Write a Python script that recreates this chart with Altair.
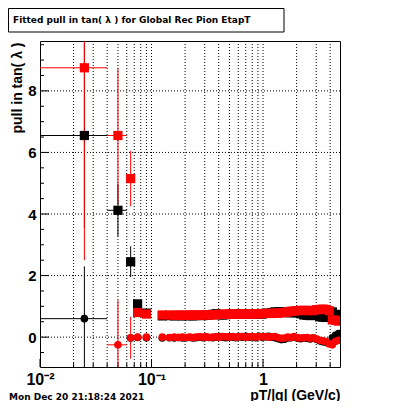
import altair as alt
import pandas as pd

# ---- axis tick values ----
X_MAJOR = [0.01, 0.1, 1]
X_MINOR = [0.02, 0.03, 0.04, 0.05, 0.06, 0.07, 0.08, 0.09,
           0.2, 0.3, 0.4, 0.5, 0.6, 0.7, 0.8, 0.9, 2, 3, 4]
Y_MAJOR = [0, 2, 4, 6, 8]
Y_MINOR = [-0.5, 0.5, 1, 1.5, 2.5, 3, 3.5, 4.5, 5, 5.5, 6.5, 7, 7.5, 8.5, 9, 9.5]
X_DOMAIN = [0.01, 4.9]
Y_DOMAIN = [-0.97, 9.62]

# ---- bin centres of the dense region ----
dense_x = [0.125, 0.145, 0.16, 0.175, 0.19, 0.205, 0.22, 0.235, 0.25, 0.27,
           0.29, 0.31, 0.33, 0.355, 0.38, 0.405, 0.435, 0.465, 0.5, 0.535,
           0.57, 0.61, 0.65, 0.7, 0.75, 0.8, 0.86, 0.92, 0.98, 1.05,
           1.12, 1.2, 1.28, 1.37, 1.46, 1.56, 1.67, 1.78, 1.9, 2.03,
           2.17, 2.32, 2.48, 2.65, 2.83, 3.02, 3.22, 3.44, 3.67, 3.92,
           4.18, 4.46, 4.75]

# black squares
bs_x = [0.025, 0.05, 0.065, 0.075, 0.09] + dense_x
bs_y = [6.55, 4.12, 2.45, 1.08, 0.78,
        0.69, 0.70, 0.69, 0.70, 0.69, 0.70, 0.70, 0.69, 0.70, 0.71,
        0.70, 0.72, 0.72, 0.74, 0.76, 0.73, 0.72, 0.73, 0.74, 0.75,
        0.74, 0.75, 0.76, 0.75, 0.74, 0.76, 0.75, 0.76, 0.75, 0.77,
        0.78, 0.80, 0.82, 0.82, 0.82, 0.81, 0.80, 0.79, 0.80, 0.79,
        0.76, 0.72, 0.71, 0.70, 0.71, 0.72, 0.66, 0.65, 0.64, 0.80,
        0.82, 0.72, 0.74]
# red squares
rs_x = [0.025, 0.05, 0.065, 0.075, 0.09] + dense_x
rs_y = [8.75, 6.55, 5.15, 0.80, 0.75,
        0.72, 0.72, 0.71, 0.72, 0.71, 0.72, 0.71, 0.72, 0.72, 0.71,
        0.72, 0.72, 0.73, 0.72, 0.73, 0.74, 0.74, 0.75, 0.75, 0.74,
        0.75, 0.75, 0.75, 0.75, 0.76, 0.75, 0.76, 0.76, 0.76, 0.77,
        0.77, 0.77, 0.78, 0.78, 0.79, 0.80, 0.82, 0.84, 0.85, 0.86,
        0.87, 0.87, 0.86, 0.87, 0.86, 0.89, 0.90, 0.91, 0.90, 0.86,
        0.56, 0.55, 0.52]
# black circles
bc_x = [0.025, 0.065, 0.075, 0.09] + dense_x
bc_y = [0.60, -0.03, -0.01, -0.02,
        -0.03, -0.02, -0.03, -0.01, -0.03, -0.02, -0.01, -0.03, -0.02, 0.00,
        -0.02, 0.00, -0.01, -0.02, 0.00, 0.02, 0.00, -0.02, 0.01, 0.00,
        -0.02, 0.02, 0.00, 0.03, 0.00, 0.01, -0.02, 0.03, 0.00, 0.01,
        0.03, 0.00, -0.02, -0.05, -0.08, -0.07, -0.03, -0.02, 0.00, -0.03,
        -0.05, -0.03, -0.04, -0.06, -0.03, -0.07, -0.12, -0.15, -0.17, -0.20,
        -0.02, 0.06, 0.12]
# red circles
rc_x = [0.05, 0.065, 0.075, 0.09] + dense_x
rc_y = [-0.25, -0.02, 0.00, 0.00,
        0.00, -0.01, 0.00, -0.01, 0.00, -0.01, 0.00, -0.01, 0.00, 0.01,
        0.00, 0.01, -0.01, 0.00, 0.01, 0.00, 0.02, 0.01, 0.00, 0.02,
        0.00, 0.01, 0.02, 0.00, 0.01, 0.02, 0.00, 0.02, 0.01, 0.02,
        0.00, 0.01, 0.02, -0.02, -0.04, -0.03, 0.00, -0.01, 0.02, -0.02,
        -0.03, -0.02, -0.01, -0.04, -0.02, -0.06, -0.10, -0.12, -0.14, -0.22,
        -0.25, -0.14, -0.10]

# error bars of the low-pT bins
err_series = ["bs", "bs", "bs", "bs", "bc", "rs", "rs", "rs", "rc", "rc", "rc"]
err_x   = [0.025, 0.05, 0.065, 0.075, 0.025, 0.025, 0.05, 0.065, 0.05, 0.065, 0.075]
err_xlo = [0.01, 0.04, 0.06, 0.07, 0.01, 0.01, 0.04, 0.06, 0.04, 0.06, 0.07]
err_xhi = [0.04, 0.06, 0.07, 0.08, 0.04, 0.04, 0.06, 0.07, 0.06, 0.07, 0.08]
err_y   = [6.55, 4.12, 2.45, 1.08, 0.60, 8.75, 6.55, 5.15, -0.25, -0.02, 0.00]
err_dy  = [3.0, 0.85, 0.50, 0.12, 1.70, 6.25, 2.20, 0.90, 1.45, 0.68, 0.10]

COLORS = {"bs": "#000000", "bc": "#000000", "rs": "#ff0000", "rc": "#ff0000"}

W, H = 300, 326
FONT = "Liberation Sans"

xs = alt.Scale(type="log", domain=X_DOMAIN, nice=False)
ys = alt.Scale(domain=Y_DOMAIN, nice=False, zero=False)

AX = alt.Axis(values=X_MAJOR,
              labelExpr="datum.value < 0.05 ? '10⁻²' : (datum.value < 0.5 ? '10⁻¹' : '1')",
              ticks=False, domain=False, grid=False, labelFont=FONT,
              labelFontSize=16, labelFontWeight="bold", labelPadding=4,
              labelColor="black", labelFlush=False,
              title="pT/|q| (GeV/c)", titleFont=FONT, titleFontSize=14,
              titleFontWeight="bold", titleColor="black", titleAnchor="end",
              titleAlign="right", titleX=W, titleY=32,
              titleBaseline="alphabetic")
AY = alt.Axis(values=Y_MAJOR, ticks=False, domain=False, grid=False,
              labelFont=FONT, labelFontSize=15, labelFontWeight="bold",
              labelColor="black", labelPadding=4,
              title="pull in tan( λ )", titleFont=FONT, titleFontSize=14,
              titleFontWeight="bold", titleColor="black", titleAngle=270,
              titleAlign="right", titleX=-19, titleY=1,
              titleBaseline="alphabetic")


def X(f):
    return alt.X(f, scale=xs, axis=AX)


def Y(f):
    return alt.Y(f, scale=ys, axis=AY)


def pts(xv, yv):
    return pd.DataFrame({"x": xv, "y": yv})


err = pd.DataFrame({"s": err_series, "x": err_x, "xlo": err_xlo, "xhi": err_xhi,
                    "y": err_y})
err["ylo"] = [a - b for a, b in zip(err_y, err_dy)]
err["yhi"] = [a + b for a, b in zip(err_y, err_dy)]
err["c"] = [COLORS[s] for s in err_series]

# grid lines
xgrid = alt.Chart(pd.DataFrame({"v": X_MAJOR[1:] + X_MINOR})).mark_rule(
    color="black", strokeWidth=1, strokeDash=[1, 2]).encode(x=X("v:Q"))
ygrid = alt.Chart(pd.DataFrame({"v": Y_MAJOR})).mark_rule(
    color="black", strokeWidth=1, strokeDash=[1, 2]).encode(y=Y("v:Q"))

# ticks (inward)
xt_major = alt.Chart(pd.DataFrame({"v": X_MAJOR})).mark_rule(color="black").encode(
    x=X("v:Q"), y=alt.value(H), y2=alt.value(H - 8))
xt_minor = alt.Chart(pd.DataFrame({"v": X_MINOR})).mark_rule(color="black").encode(
    x=X("v:Q"), y=alt.value(H), y2=alt.value(H - 4))
yt_major = alt.Chart(pd.DataFrame({"v": Y_MAJOR})).mark_rule(color="black").encode(
    y=Y("v:Q"), x=alt.value(0), x2=alt.value(9))
yt_minor = alt.Chart(pd.DataFrame({"v": Y_MINOR})).mark_rule(color="black").encode(
    y=Y("v:Q"), x=alt.value(0), x2=alt.value(4))

# error bars
ebx = alt.Chart(err).mark_rule(strokeWidth=1, clip=True).encode(
    x=X("xlo:Q"), x2="xhi:Q", y=Y("y:Q"),
    color=alt.Color("c:N", scale=None))
eby = alt.Chart(err).mark_rule(strokeWidth=1, clip=True).encode(
    x=X("x:Q"), y=Y("ylo:Q"), y2="yhi:Q",
    color=alt.Color("c:N", scale=None))


def markers(df, shape, color, size):
    return alt.Chart(df).mark_point(shape=shape, filled=True, color=color, size=size,
                                    opacity=1, clip=True).encode(
        x=X("x:Q"), y=Y("y:Q"))


m_bs = markers(pts(bs_x, bs_y), "square", "#000000", 85)
m_bc = markers(pts(bc_x, bc_y), "circle", "#000000", 58)
m_rs = markers(pts(rs_x, rs_y), "square", "#ff0000", 85)
m_rc = markers(pts(rc_x, rc_y), "circle", "#ff0000", 58)

# title box and date
one = pd.DataFrame({"t": ["Fitted pull in tan( λ ) for Global Rec Pion EtapT"]})
box = alt.Chart(one).mark_rect(fill="white", stroke="black", strokeWidth=1).encode(
    x=alt.value(-31.5), x2=alt.value(244), y=alt.value(-32.5), y2=alt.value(-9))
title = alt.Chart(one).mark_text(align="left", baseline="middle", font="DejaVu Sans",
                                 fontWeight="bold", fontSize=9, color="black").encode(
    x=alt.value(-27), y=alt.value(-21), text="t:N")
date = alt.Chart(pd.DataFrame({"t": ["Mon Dec 20 21:18:24 2021"]})).mark_text(
    align="left", baseline="alphabetic", font="DejaVu Sans", fontWeight="bold",
    fontSize=9, color="black").encode(x=alt.value(-31), y=alt.value(H + 33), text="t:N")

chart = alt.layer(
    xgrid, ygrid, xt_major, xt_minor, yt_major, yt_minor,
    ebx, eby, m_bs, m_bc, m_rs, m_rc, box, title, date
).properties(
    width=W, height=H,
    autosize=alt.AutoSizeParams(type="none"),
    padding={"left": 32, "top": 33, "right": 52, "bottom": 34},
    background="white",
).configure_view(stroke="black", strokeWidth=1)

chart.save("out.html", embed_options={"renderer": "svg", "actions": False})
